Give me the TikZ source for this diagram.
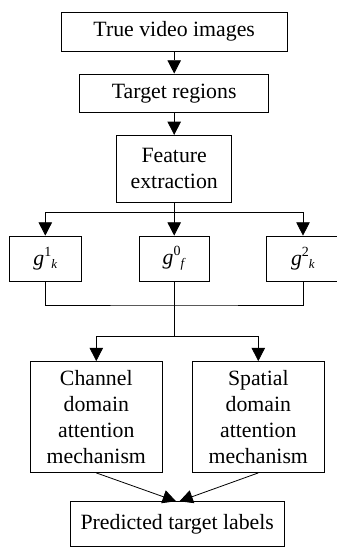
\documentclass[tikz,border=0pt]{standalone}
\usepackage{fontspec}
\setmainfont{Liberation Serif}
\usetikzlibrary{arrows.meta}
\newcommand\mysup[1]{\raisebox{8.4pt}{\fontsize{14}{15}\selectfont #1}}
\newcommand\mysub[1]{\raisebox{-3.6pt}{\fontsize{13}{14}\selectfont #1}}
\begin{document}
\begin{tikzpicture}[x=1pt,y=-1pt,
  box/.style={draw,line width=0.8pt,inner sep=0pt,align=center,
    font=\fontsize{21.8}{26}\selectfont},
  conn/.style={line width=0.8pt},
  arr/.style={conn,-{Triangle[length=13.3pt,width=13.5pt]}}]
\useasboundingbox (0,0) rectangle (337,547);
\node[box,minimum width=225.7pt,minimum height=38.7pt] (tv) at (174.2,31.7) {True video images};
\node[box,minimum width=189pt,minimum height=38.7pt] (tr) at (174.2,93.3) {Target regions};
\node[box,minimum width=115pt,minimum height=67pt] (fe) at (174.2,168.8) {Feature\\extraction};
\node[box,minimum width=72.7pt,minimum height=45pt] (g1) at (45.3,258.5) {\textit{g}\mysup{1}\mysub{\textit{k}}};
\node[box,minimum width=70pt,minimum height=45pt] (g0) at (174.2,258.5) {\textit{g}\mysup{0}\mysub{\textit{f}}};
\node[box,minimum width=72.7pt,minimum height=45pt] (g2) at (303,258.5) {\textit{g}\mysup{2}\mysub{\textit{k}}};
\node[box,minimum width=132pt,minimum height=111pt] (ch) at (96.3,417) {Channel\\domain\\attention\\mechanism};
\node[box,minimum width=131.3pt,minimum height=111pt] (sp) at (258.3,417) {Spatial\\domain\\attention\\mechanism};
\node[box,minimum width=213.7pt,minimum height=44.3pt] (pr) at (177.2,523.8) {Predicted target labels};
\coordinate (s1) at (174.2,212.3);
\coordinate (m1) at (174.2,305);
\coordinate (m2) at (174.2,336.7);
\draw[arr] (tv) -- (tr);
\draw[arr] (tr) -- (fe);
\draw[conn] (fe) -- (s1);
\draw[arr] (s1) -| (g1);
\draw[arr] (s1) -- (g0);
\draw[arr] (s1) -| (g2);
\draw[conn] (g1) |- (m1) -| (g2);
\draw[conn] (g0) -- (m2);
\draw[arr] (m2) -| (ch);
\draw[arr] (m2) -| (sp);
\draw[arr] (ch.south) -- ([xshift=-1.2pt]pr.north);
\draw[arr] (sp.south) -- ([xshift=2.3pt]pr.north);
\end{tikzpicture}
\end{document}
